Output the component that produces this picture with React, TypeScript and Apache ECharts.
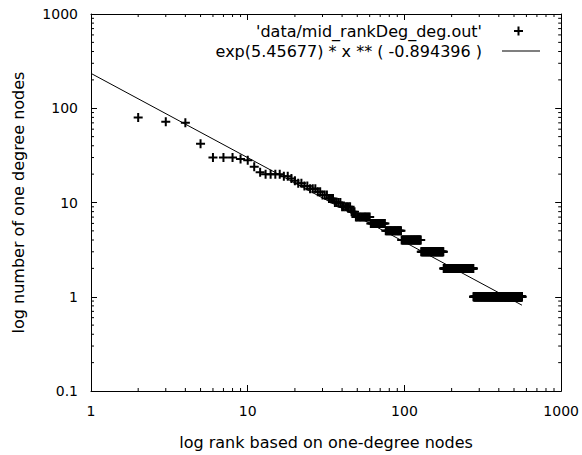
import React, { useEffect, useRef } from "react";
import * as echarts from "echarts";

// Rank-ordered counts, run-length encoded: each run starts at runStart[i]
// and lasts until the next run starts (the last run ends at lastRank).
const runStart = [2, 3, 4, 5, 6, 9, 10, 11, 12, 13, 17, 19, 20, 21, 23, 25, 28, 30, 33, 36, 40, 46, 49, 61, 76, 96, 128, 178, 276];
const runValue = [80, 72, 70, 42, 30, 29, 28, 24, 21, 20, 19, 18, 17, 16, 15, 14, 13, 12, 11, 10, 9, 8, 7, 6, 5, 4, 3, 2, 1];
const lastRank = 562;

// Fitted power law from the legend
const fitLnA = 5.45677;
const fitExponent = -0.894396;

const xMajorTicks = [1, 10, 100, 1000];
const yMajorTicks = [0.1, 1, 10, 100, 1000];
const minorMultipliers = [2, 3, 4, 5, 6, 7, 8, 9];

const scatterName = "'data/mid_rankDeg_deg.out'";
const fitName = "exp(5.45677) * x ** ( -0.894396 )";
const xTitle = "log rank based on one-degree nodes";
const yTitle = "log number of one degree nodes";

const FONT = "DejaVu Sans";
const PLUS = "path://M0,3.5H9V5.5H0Z M3.5,0H5.5V9H3.5Z";

function buildPoints(): number[][] {
  const pts: number[][] = [];
  for (let i = 0; i < runStart.length; i++) {
    const end = i + 1 < runStart.length ? runStart[i + 1] - 1 : lastRank;
    for (let r = runStart[i]; r <= end; r++) pts.push([r, runValue[i]]);
  }
  return pts;
}

function minorsBetween(majors: number[]): number[] {
  const out: number[] = [];
  for (let i = 0; i < majors.length - 1; i++) {
    for (const m of minorMultipliers) out.push(+(majors[i] * m).toPrecision(6));
  }
  return out;
}

const fmt = (v: number) => String(+v.toPrecision(6));

export default function App() {
  const ref = useRef<HTMLDivElement>(null);
  useEffect(() => {
    if (!ref.current) return;
    const chart = echarts.init(ref.current, null, { renderer: "svg" });
    const xMin = xMajorTicks[0];
    const xMax = xMajorTicks[xMajorTicks.length - 1];
    const yMin = yMajorTicks[0];
    const yMax = yMajorTicks[yMajorTicks.length - 1];
    const points = buildPoints();
    const fitA = Math.exp(fitLnA);
    const fitLine = [
      [1, fitA],
      [lastRank, fitA * Math.pow(lastRank, fitExponent)],
    ];
    const minorLen = 3;
    const black = "#000";
    const axisCommon = {
      type: "log" as const,
      logBase: 10,
      axisLine: { show: true, onZero: false, lineStyle: { color: black, width: 1 } },
      axisTick: { show: true, inside: true, length: 6, lineStyle: { color: black, width: 1 } },
      splitLine: { show: false },
      minorTick: { show: false },
    };
    const textStyle = { color: black, fontFamily: FONT };

    chart.setOption({
      animation: false,
      backgroundColor: "#fff",
      color: [black, black],
      grid: { left: 91, right: 20, top: 14, bottom: 62 },
      legend: [
        {
          data: [scatterName],
          right: 59,
          top: 23,
          padding: 0,
          align: "right",
          itemWidth: 9,
          itemHeight: 9,
          selectedMode: false,
          textStyle: { ...textStyle, fontSize: 16, lineHeight: 16, padding: [0, 27, 0, 0] },
        },
        {
          data: [{ name: fitName, icon: "rect" }],
          right: 42,
          top: 43,
          padding: 0,
          align: "right",
          itemWidth: 38,
          itemHeight: 1,
          selectedMode: false,
          itemStyle: { color: black },
          textStyle: { ...textStyle, fontSize: 16, lineHeight: 16, padding: [0, 15, 0, 0] },
        },
      ],
      xAxis: [
        {
          ...axisCommon,
          min: xMin,
          max: xMax,
          position: "bottom",
          axisLabel: { ...textStyle, fontSize: 14, margin: 13, formatter: fmt },
          name: xTitle,
          nameLocation: "middle",
          nameGap: 43,
          nameTextStyle: { ...textStyle, fontSize: 16 },
        },
        {
          ...axisCommon,
          min: xMin,
          max: xMax,
          position: "top",
          axisLabel: { show: false },
        },
      ],
      yAxis: [
        {
          ...axisCommon,
          min: yMin,
          max: yMax,
          position: "left",
          axisLabel: { ...textStyle, fontSize: 14, margin: 13, formatter: fmt },
          name: yTitle,
          nameLocation: "middle",
          nameGap: 65,
          nameTextStyle: { ...textStyle, fontSize: 16 },
        },
        {
          ...axisCommon,
          min: yMin,
          max: yMax,
          position: "right",
          axisLabel: { show: false },
        },
      ],
      series: [
        {
          name: scatterName,
          type: "scatter",
          data: points,
          symbol: PLUS,
          symbolSize: 9,
          itemStyle: { color: black, opacity: 1 },
          xAxisIndex: 0,
          yAxisIndex: 0,
        },
        {
          name: fitName,
          type: "line",
          data: fitLine,
          symbol: "none",
          itemStyle: { color: black },
          lineStyle: { color: black, width: 1 },
          xAxisIndex: 0,
          yAxisIndex: 0,
        },
        {
          type: "custom",
          silent: true,
          xAxisIndex: 0,
          yAxisIndex: 0,
          data: minorsBetween(xMajorTicks).map((v) => [v, yMin]),
          renderItem: (_p: any, api: any) => {
            const v = api.value(0);
            const b = api.coord([v, yMin]);
            const t = api.coord([v, yMax]);
            return {
              type: "group",
              children: [
                { type: "line", shape: { x1: b[0], y1: b[1], x2: b[0], y2: b[1] - minorLen }, style: { stroke: black, lineWidth: 1 } },
                { type: "line", shape: { x1: t[0], y1: t[1], x2: t[0], y2: t[1] + minorLen }, style: { stroke: black, lineWidth: 1 } },
              ],
            };
          },
        },
        {
          type: "custom",
          silent: true,
          xAxisIndex: 0,
          yAxisIndex: 0,
          data: minorsBetween(yMajorTicks).map((v) => [xMin, v]),
          renderItem: (_p: any, api: any) => {
            const v = api.value(1);
            const l = api.coord([xMin, v]);
            const r = api.coord([xMax, v]);
            return {
              type: "group",
              children: [
                { type: "line", shape: { x1: l[0], y1: l[1], x2: l[0] + minorLen, y2: l[1] }, style: { stroke: black, lineWidth: 1 } },
                { type: "line", shape: { x1: r[0], y1: r[1], x2: r[0] - minorLen, y2: r[1] }, style: { stroke: black, lineWidth: 1 } },
              ],
            };
          },
        },
      ],
    });
    return () => chart.dispose();
  }, []);
  return (
    <div
      ref={ref}
      style={{ position: "fixed", left: 0, top: 0, width: 582, height: 455, background: "#fff" }}
    />
  );
}
